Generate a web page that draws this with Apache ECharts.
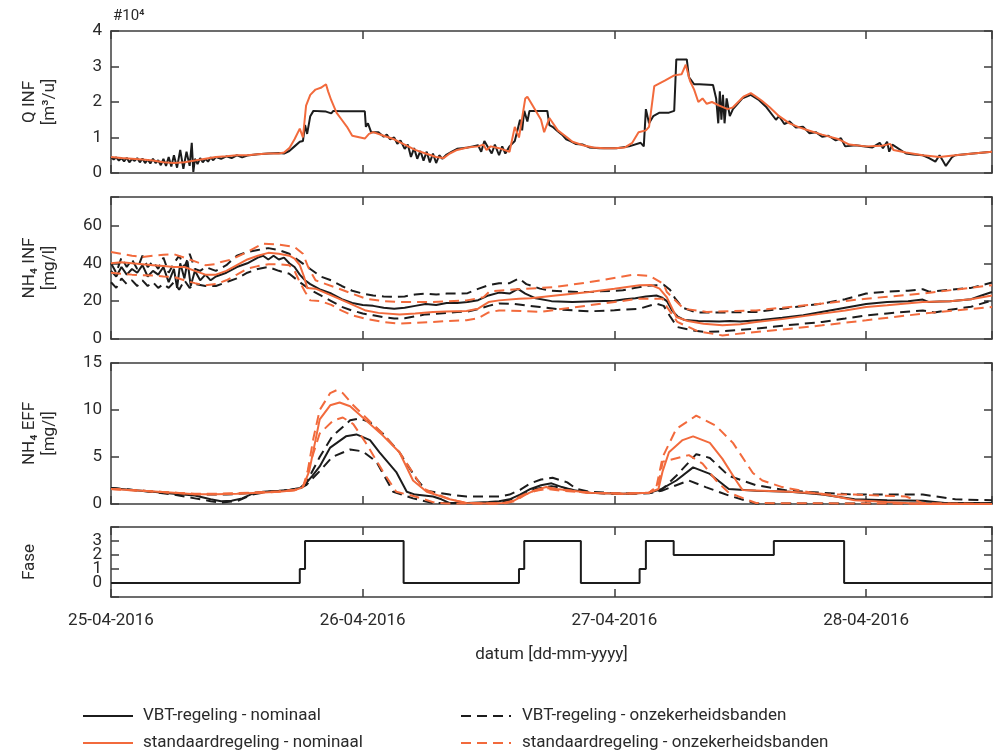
<!DOCTYPE html>
<html>
<head>
<meta charset="utf-8">
<script src="https://cdn.jsdelivr.net/npm/echarts@6/dist/echarts.min.js"></script>
<style>
    body { margin: 0; background: #fff; }
    #main { width: 993px; height: 756px; }
</style>
</head>
<body>
<div id="main"></div>
<script>
// tijd in uren vanaf 25-04-2016 00:00
var dateLabels = ['25-04-2016', '26-04-2016', '27-04-2016', '28-04-2016'];

// Q INF [x10^4 m3/u]
var qVbt = [[0,0.45],[0.25,0.38],[0.5,0.44],[0.75,0.35],[1,0.42],[1.25,0.33],[1.5,0.43],[1.75,0.3],[2,0.4],[2.25,0.34],[2.5,0.42],[2.75,0.3],[3,0.41],[3.25,0.28],[3.5,0.38],[3.75,0.27],[4,0.4],[4.25,0.28],[4.5,0.36],[4.75,0.22],[5,0.4],[5.25,0.2],[5.5,0.45],[5.75,0.18],[6,0.5],[6.3,0.15],[6.6,0.65],[6.9,0.12],[7.2,0.6],[7.5,0.2],[7.7,0.85],[7.85,0.03],[8,0.4],[8.25,0.25],[8.5,0.42],[8.75,0.3],[9,0.4],[9.25,0.32],[9.5,0.44],[9.75,0.36],[10,0.45],[10.5,0.4],[11,0.47],[11.5,0.42],[12,0.5],[12.5,0.44],[13,0.49],[14,0.53],[15,0.55],[16,0.56],[16.5,0.55],[17,0.62],[17.5,0.75],[18,0.88],[18.3,0.9],[18.5,1.35],[18.7,1.1],[19,1.6],[19.3,1.75],[20,1.74],[20.5,1.73],[21,1.68],[21.2,1.75],[22,1.74],[23,1.74],[24.2,1.74],[24.3,1.3],[24.5,1.4],[24.8,1.15],[25.5,1.15],[26,1.02],[26.3,1.08],[26.6,0.95],[27,1.0],[27.3,0.82],[27.6,0.92],[28,0.68],[28.3,0.8],[28.6,0.45],[28.9,0.7],[29.2,0.4],[29.5,0.62],[29.8,0.35],[30.1,0.6],[30.4,0.3],[30.7,0.55],[31,0.28],[31.3,0.5],[31.6,0.4],[32,0.52],[32.5,0.6],[33,0.68],[33.5,0.7],[34,0.72],[34.5,0.75],[35,0.78],[35.3,0.6],[35.6,0.9],[36,0.7],[36.3,0.55],[36.6,0.8],[37,0.5],[37.3,0.75],[37.6,0.55],[38,0.75],[38.5,0.9],[39,1.5],[39.2,1.2],[39.4,1.75],[39.7,1.45],[39.9,1.75],[41.6,1.75],[41.8,1.35],[42.1,1.3],[42.5,1.2],[43,1.08],[43.4,0.95],[43.8,0.9],[44.3,0.82],[45,0.8],[45.6,0.72],[46.6,0.7],[48.2,0.7],[49.4,0.75],[50.5,0.85],[50.6,0.8],[50.8,0.75],[51,1.8],[51.3,1.4],[51.7,1.6],[52.3,1.7],[53.2,1.7],[53.7,1.75],[53.9,3.2],[54.9,3.2],[55.1,2.7],[55.6,2.5],[56.1,2.5],[57.4,2.48],[57.7,2.1],[57.9,1.4],[58.05,2.3],[58.2,1.5],[58.35,2.2],[58.5,1.4],[58.7,2.1],[59,1.6],[59.3,1.8],[59.6,1.9],[60.2,2.1],[61,2.2],[61.8,2.05],[62.5,1.85],[63.4,1.5],[63.7,1.6],[64.2,1.38],[64.7,1.45],[65.3,1.28],[66,1.3],[66.6,1.12],[67.2,1.15],[67.8,1.02],[68.4,1.05],[69.1,0.92],[69.6,0.98],[70,0.75],[71,0.78],[72.6,0.72],[73.3,0.85],[73.6,0.7],[74,0.88],[74.2,0.6],[74.5,0.8],[75.8,0.55],[76.5,0.52],[77.4,0.5],[78,0.42],[78.6,0.32],[79,0.5],[79.3,0.35],[79.6,0.2],[80.2,0.45],[80.5,0.5],[82.2,0.55],[84,0.6]];
var qStd = [[0,0.45],[1,0.42],[2,0.4],[3,0.38],[4,0.35],[5,0.3],[6,0.28],[7,0.3],[8,0.35],[9,0.4],[10,0.45],[11,0.47],[12,0.5],[13,0.5],[14,0.53],[15,0.55],[16,0.55],[16.5,0.58],[17,0.7],[17.5,0.95],[18,1.25],[18.3,1.0],[18.6,1.9],[19,2.2],[19.5,2.35],[20,2.4],[20.5,2.5],[20.7,2.3],[21,2.05],[21.5,1.7],[22,1.5],[22.5,1.3],[23,1.05],[24.2,0.97],[24.6,1.1],[25,1.15],[26,1.05],[27,0.95],[28,0.8],[29,0.65],[30,0.55],[31,0.45],[31.7,0.42],[32.3,0.55],[33,0.65],[34,0.72],[35,0.75],[35.5,0.8],[35.8,0.65],[36.2,0.75],[37,0.7],[38,0.6],[38.5,1.3],[38.9,1.0],[39.5,2.1],[39.7,2.15],[40.2,1.9],[41,1.5],[41.3,1.15],[41.8,1.55],[42.6,1.2],[43.5,1.0],[44,0.88],[45,0.78],[46,0.72],[47,0.7],[48,0.7],[49,0.72],[49.7,0.85],[50.3,1.15],[51,1.2],[51.3,1.3],[51.8,2.45],[52.8,2.6],[53.7,2.75],[54.4,2.78],[54.8,3.05],[55.2,2.6],[55.6,2.35],[56,2.0],[56.4,2.1],[56.8,1.95],[57.3,2.0],[58,1.9],[58.8,1.8],[59.3,1.85],[59.8,2.0],[60.3,2.15],[61,2.25],[61.5,2.15],[62,2.05],[62.8,1.85],[63.7,1.6],[64.7,1.4],[65.5,1.3],[66.3,1.22],[67.8,1.08],[69.4,0.95],[70.4,0.8],[72,0.75],[73.5,0.77],[74.3,0.82],[74.6,0.65],[75.8,0.58],[77.4,0.5],[79,0.45],[80.5,0.5],[82.2,0.55],[84,0.6]];

// NH4 INF [mg/l]
var nhInfVbt = [[0,36],[0.5,33],[1,38],[1.5,34],[2,37],[2.5,35],[3,39],[3.5,33],[4,36],[4.5,34],[5,38],[5.5,30],[6,37],[6.3,27],[6.6,40],[7,32],[7.3,41],[7.6,28],[8,36],[8.5,31],[9,34],[9.5,31],[10,33],[11,35],[12,38],[13,40],[14,43],[14.5,44],[15,42],[15.5,44],[16,42],[16.5,43],[17,40],[17.5,38],[18,34],[18.5,31],[19,29],[20,26],[21,24],[22,21],[23,19],[24,18],[25,17.5],[26,16.5],[27,16],[28,16.5],[29,17.5],[30,18.5],[31,18],[32,19],[33,19],[34,19.5],[35,20.5],[36,23],[37,24.5],[38,24],[38.8,26.5],[39.5,24],[40.5,21.5],[42,20],[44,19.5],[46,20],[48,20.2],[49,21],[50,21.5],[51,22.5],[52,23],[52.5,22],[53,20],[53.5,15],[54,12],[54.7,10],[56,9.5],[58,9.3],[59,9.5],[60,9.2],[62,10],[64,11.2],[66,12.5],[68,14.5],[70,16.5],[72,18.5],[74,19.5],[76,20],[77.4,20.8],[78,19.5],[79,19.8],[80,20],[81,20.5],[82,21],[83,23],[84,24.8]];
var nhInfVbtHi = [[0,40],[0.5,35],[1,43],[1.5,38],[2,42],[2.5,37],[3,44],[3.5,38],[4,41],[4.5,37],[5,43],[5.5,35],[6,40],[6.5,44],[7,38],[7.5,45],[8,37],[8.5,36],[9,38],[10,36],[11,39],[12,44],[13,46],[14,47],[15,48],[16,47],[17,45],[18,41],[19,37],[20,33],[21,31],[22,28],[23,25.5],[24,24],[25,23],[26,22.5],[27,22.2],[28,22.5],[29,23.5],[30,24],[31,23.5],[32,24],[33,24],[34,24.2],[35,26.5],[36,28.4],[37,29.5],[38,29.5],[38.9,32],[39.6,29],[40.9,26.6],[42,25.5],[44.5,24.8],[46,25],[48.8,25.7],[50,27],[51,28],[52,28.4],[52.7,28.6],[53.3,26],[53.8,21.3],[54.5,16.5],[55.8,14],[58,14],[61.5,14.3],[64,16],[67.8,18.7],[70,21],[72,24],[74,25],[76,25.5],[77.4,26.3],[78,25],[79,25.5],[80,26],[82,27],[84,29.8]];
var nhInfVbtLo = [[0,30],[0.5,27],[1,32],[1.5,29],[2,31],[2.5,28],[3,31],[3.5,28],[4,30],[4.5,27],[5,29],[5.5,27],[6,30],[6.5,26],[7,31],[7.5,27],[8,29],[9,28],[10,28],[11,30],[12,32],[13,35],[14,37],[15,38],[16,36],[17,34.5],[18,30],[19,26],[20,23],[21,20],[22,17],[23,15],[24,13.5],[25,12.5],[26,11.5],[27,10.8],[28,11],[29,12],[30,13],[31,13.3],[32,13.8],[33,14.3],[34,14.5],[35,15.8],[36,17.5],[37,18.8],[38.5,18.5],[40.9,16.9],[43,15.5],[45.6,14.6],[48,15.2],[50.4,16],[52,18.7],[52.7,17.5],[53.3,12],[54,6.3],[55.5,4.5],[56.7,3.7],[58,4],[61.5,5.5],[64,7],[67.8,9],[70,10.8],[72,12.5],[74,13.5],[77.4,15.1],[78.5,14],[80,15.5],[82,17],[84,20.4]];
var nhInfStd = [[0,40],[1,40.5],[2,40],[3,39.5],[4,39],[5,38.5],[6,38],[7,38],[8,36],[9,34],[10,34],[11,36],[12,39],[13,42],[14,44],[15,45.5],[16,45],[17,44],[17.5,42.5],[18,39],[18.4,33],[18.7,27],[19.5,26.6],[21,23],[22.8,18.7],[24.3,15],[25.5,13.8],[27.5,12.9],[29,13.5],[30.7,14.3],[32,14.5],[33.9,14.8],[35,16],[36,19.5],[37,20.4],[38.9,21.3],[40,21.5],[42.4,23],[45.6,24.8],[48,26.5],[50.4,28.4],[51.5,28.5],[52.3,26.6],[53,22],[53.9,11.6],[55,9.5],[56.5,8],[58.3,7.2],[60,7.8],[61.5,9],[64,10.5],[67.8,13.4],[70,15],[72,16.9],[74,17.8],[77.4,19.5],[80,20],[82,21],[84,23]];
var nhInfStdHi = [[0,46],[1,45],[2,44],[3,43.3],[4,44],[5,44.5],[6,44.8],[7,43],[8,41],[9,39],[10,39.5],[10.5,40.7],[11.5,42],[13,46],[14.5,50.4],[16,49.9],[17.5,48.6],[18.3,45],[18.8,38],[19.5,31],[20.5,29],[22,26],[24.3,21.3],[26,20],[27.5,19.5],[30.7,19.5],[33.9,20.4],[35.5,22],[36.1,25.2],[38,26],[42.4,27.5],[45.6,30],[49.8,34],[51.4,33.3],[52.7,29],[53,24.8],[54.6,16],[56.8,14.3],[61.5,15.1],[67.8,18.7],[72,21.3],[77.4,24],[84,28.4]];
var nhInfStdLo = [[0,35],[1,34.5],[2,34],[3,33.7],[4,33.5],[5,33],[6,32.8],[7,31],[8,29.5],[9,28.4],[10,29],[11,31],[12,34],[13,37.2],[14,38.5],[15,39.5],[16,39.5],[17,39],[17.5,36],[18,30],[18.5,25],[19,20.4],[20,20],[21,18],[22,15],[23,12.5],[24.3,10.7],[26,9],[27.5,8.1],[29,8.5],[30.7,9],[32,9.5],[33.9,9.9],[35,11],[36,14],[37,15.1],[38,15],[40.9,14.3],[45.6,17.8],[50.4,21.3],[52.6,21.3],[53,17],[54,9],[56,4],[58.3,1.9],[61.5,3.7],[64,5],[67.8,7.2],[72,9.9],[77.4,13.4],[84,16.9]];

// NH4 EFF [mg/l]
var effVbt = [[0,1.7],[2,1.5],[4,1.3],[6,1.1],[8,0.9],[9.5,0.5],[10.5,0.3],[11.5,0.35],[12.5,0.6],[13.5,1.1],[14.5,1.3],[16,1.4],[17,1.5],[18,1.7],[18.5,2.1],[19.2,3.0],[19.9,4.0],[20.9,6.0],[22.4,7.2],[23.4,7.4],[24.7,6.8],[25.6,5.5],[27.2,3.4],[28.2,1.3],[29,1.0],[30.7,0.8],[31.5,0.5],[32.3,0.1],[34,0.1],[36,0.2],[37,0.3],[38,0.5],[39,1.0],[40,1.6],[41,2.0],[42,2.2],[43,1.8],[44,1.5],[45.6,1.2],[48.8,1.1],[51.3,1.2],[52.5,1.6],[53.9,2.5],[55.5,3.9],[57.1,3.2],[58.9,1.6],[61.5,1.4],[64.7,1.3],[67.8,1.0],[70.9,0.5],[74,0.4],[77.4,0.35],[79.5,0.1],[84,0.1]];
var effVbtHi = [[0,1.7],[3,1.4],[6,1.15],[9,1.0],[11,1.0],[13,1.15],[15,1.3],[17,1.45],[18,1.7],[18.6,2.2],[19.9,5.0],[21.1,7.2],[22.8,8.9],[23.7,9.1],[24.7,8.7],[25.9,7.5],[27.5,5.5],[29.1,2.7],[30.1,1.4],[32.3,1.0],[33.9,0.8],[37,0.8],[38,1.0],[39,1.5],[40,2.2],[41,2.6],[42.1,2.8],[43.5,2.3],[44.4,1.6],[45.6,1.3],[48.8,1.1],[51.3,1.2],[52.5,1.5],[53.9,3.0],[55.8,5.3],[57.1,4.9],[58.9,3.0],[61.5,2.0],[64.7,1.4],[70.9,1.0],[77.4,1.0],[80.5,0.5],[84,0.4]];
var effVbtLo = [[0,1.7],[3,1.4],[6,1.0],[8,0.6],[9.5,0.3],[10.5,0.15],[12,0.3],[13.5,1.0],[15,1.3],[17,1.5],[18,1.65],[18.6,2.0],[19.9,3.5],[21.1,5.0],[22.8,5.8],[24,5.6],[25.3,4.5],[26.9,1.3],[28.8,0.6],[30.7,0.1],[36,0.1],[37,0.2],[38,0.4],[39.3,1.0],[40.5,1.6],[42,1.9],[43.5,1.6],[45.6,1.2],[48.8,1.05],[51.3,1.15],[52.5,1.4],[53.9,2.0],[55.1,2.5],[56.7,1.8],[58.9,0.9],[61.5,0.05],[84,0.05]];
var effStd = [[0,1.6],[3,1.4],[6,1.2],[8,1.05],[10,1.05],[12,1.1],[14,1.2],[16,1.3],[17.5,1.45],[18.3,1.8],[18.9,3.5],[19.9,9.0],[20.9,10.5],[21.8,10.8],[22.8,10.4],[24.3,8.9],[25.9,7.3],[27.5,5.5],[28.8,2.5],[30.1,1.3],[32.3,0.5],[33.9,0.1],[36,0.05],[37.5,0.1],[38.5,0.4],[39.5,1.0],[40.5,1.5],[41.5,1.8],[42.5,1.6],[44,1.4],[45.6,1.2],[48.8,1.1],[51.3,1.2],[52.2,1.6],[52.6,3.5],[53.2,5.5],[54.5,6.8],[55.5,7.2],[57.1,6.5],[58.3,4.8],[59.6,2.5],[60.2,1.5],[64.7,1.3],[67.8,1.1],[70.9,0.4],[74,0.2],[77.4,0],[84,0]];
var effStdHi = [[0,1.6],[3,1.4],[6,1.2],[8,1.1],[10,1.1],[12,1.15],[14,1.25],[16,1.35],[17.5,1.5],[18.3,1.9],[18.6,2.5],[19.3,7.0],[19.9,10.0],[20.9,11.8],[21.5,12.1],[22.1,11.8],[23.1,10.5],[24.3,9.2],[25.9,7.5],[27.5,5.5],[28.8,3.3],[29.7,1.7],[30.7,1.2],[32.3,0.5],[33.9,0.1],[37,0.05],[38,0.2],[39,0.8],[40,1.3],[41.5,1.7],[43,1.5],[45.6,1.2],[48.8,1.1],[51.3,1.2],[52,1.8],[52.6,5.0],[53.9,8.0],[55.8,9.4],[57.7,8.3],[59.3,6.5],[61.2,3.3],[62.1,2.5],[64,1.8],[67.8,1.0],[70.9,1.0],[75.8,0.8],[77.4,0.1],[84,0]];
var effStdLo = [[0,1.6],[3,1.4],[6,1.2],[8,1.05],[10,1.05],[12,1.1],[14,1.2],[16,1.3],[17.5,1.45],[18.3,1.8],[18.9,4.0],[19.9,7.5],[21.2,8.9],[22.1,9.2],[23.1,8.5],[24.3,6.5],[25.9,3.5],[27.2,1.3],[29,0.8],[30.7,0.2],[32,0.05],[37.5,0.05],[38.5,0.3],[39.5,1.0],[40.5,1.4],[41.5,1.6],[43,1.4],[45.6,1.2],[48.8,1.1],[51.3,1.2],[52.2,2.0],[52.6,4.5],[55.1,5.2],[56.4,4.3],[57.7,2.5],[58.9,1.2],[61.5,0.1],[84,0]];

// Fase (stapfunctie)
var fase = [[0,0],[18,1],[18.5,3],[27.9,0],[38.9,1],[39.4,3],[44.8,0],[50.4,1],[51,3],[53.65,2],[63.2,3],[69.9,0],[84,0]];

var NAME_VBT = 'VBT-regeling - nominaal';
var NAME_VBT_B = 'VBT-regeling - onzekerheidsbanden';
var NAME_STD = 'standaardregeling - nominaal';
var NAME_STD_B = 'standaardregeling - onzekerheidsbanden';

var BLACK = '#1c1c1c';
var ORANGE = '#f26a3c';
var AXIS = '#3c3c3c';
var TEXT = '#2a2a2a';
var FONT = 'Roboto';

// grids: links 111, rechts 992
var grids = [
    {left: 111, right: 1, top: 31, height: 142},
    {left: 111, right: 1, top: 197, height: 142},
    {left: 111, right: 1, top: 363, height: 141},
    {left: 111, right: 1, top: 527, height: 70}
];

function line(name, data, idx, color, dashed) {
    return {
        name: name,
        type: 'line',
        xAxisIndex: idx,
        yAxisIndex: idx,
        data: data,
        symbol: 'none',
        silent: true,
        lineStyle: {
            color: color,
            width: 2,
            type: dashed ? [10, 6] : 'solid'
        },
        itemStyle: {color: color}
    };
}

function legendItem(name, left, top, gap) {
    return {
        orient: 'horizontal', left: left, top: top, padding: 0,
        itemWidth: 50, itemHeight: 14,
        itemStyle: {color: 'rgba(0,0,0,0)', borderColor: 'rgba(0,0,0,0)', borderWidth: 0},
        textStyle: {fontSize: 17, color: TEXT, fontFamily: FONT, lineHeight: 20, padding: [0, 0, 0, gap]},
        data: [name]
    };
}

var xAxes = [];
var yAxes = [];
var yCfg = [
    {min: 0, max: 4, interval: 1, step: 1, name: 'Q INF\n[m³/u]', gap: 51},
    {min: 0, max: 75, interval: 20, step: 20, name: 'NH₄ INF\n[mg/l]', gap: 51},
    {min: 0, max: 15, interval: 5, step: 5, name: 'NH₄ EFF\n[mg/l]', gap: 51},
    {min: -1, max: 4, interval: 1, step: 1, name: 'Fase', gap: 71}
];
for (var i = 0; i < 4; i++) {
    var last = (i === 3);
    xAxes.push({
        type: 'value', gridIndex: i, min: 0, max: 84, interval: 24,
        position: 'bottom',
        axisLine: {show: true, onZero: false, lineStyle: {color: AXIS, width: 1.5}},
        axisTick: {show: true, inside: true, length: 8, lineStyle: {color: AXIS, width: 1.5}},
        splitLine: {show: false},
        axisLabel: {
            show: last, margin: 15, color: TEXT, fontSize: 17, fontFamily: FONT,
            showMaxLabel: false,
            formatter: function (v) { return v % 24 === 0 ? dateLabels[v / 24] : ''; }
        },
        name: last ? 'datum [dd-mm-yyyy]' : '',
        nameLocation: 'middle', nameGap: 49,
        nameTextStyle: {color: TEXT, fontSize: 17, fontFamily: FONT}
    });
    yAxes.push({
        type: 'value', gridIndex: i, min: yCfg[i].min, max: yCfg[i].max, interval: yCfg[i].interval,
        position: 'left',
        axisLine: {show: true, onZero: false, lineStyle: {color: AXIS, width: 1.5}},
        axisTick: {show: true, inside: true, length: 8, lineStyle: {color: AXIS, width: 1.5}},
        splitLine: {show: false},
        axisLabel: {
            margin: 9, color: TEXT, fontSize: 17, fontFamily: FONT,
            showMaxLabel: true,
            formatter: (function (c) {
                return function (v) {
                    if (v < 0 || (c.name === 'Fase' && v > 3)) return '';
                    return v % c.step === 0 ? String(v) : '';
                };
            })(yCfg[i])
        },
        name: yCfg[i].name,
        nameLocation: 'middle', nameRotate: 90, nameGap: yCfg[i].gap,
        nameTextStyle: {color: TEXT, fontSize: 17, lineHeight: 20, fontFamily: FONT, align: 'center'}
    });
}
// bovenste en rechter assen voor de kader met tikjes
for (var j = 0; j < 4; j++) {
    xAxes.push({
        type: 'value', gridIndex: j, min: 0, max: 84, interval: 24, position: 'top',
        axisLine: {show: true, onZero: false, lineStyle: {color: AXIS, width: 1.5}},
        axisTick: {show: true, inside: true, length: 8, lineStyle: {color: AXIS, width: 1.5}},
        axisLabel: {show: false}, splitLine: {show: false}
    });
    yAxes.push({
        type: 'value', gridIndex: j, min: yCfg[j].min, max: yCfg[j].max, interval: yCfg[j].interval,
        position: 'right',
        axisLine: {show: true, onZero: false, lineStyle: {color: AXIS, width: 1.5}},
        axisTick: {show: true, inside: true, length: 8, lineStyle: {color: AXIS, width: 1.5}},
        axisLabel: {show: false}, splitLine: {show: false}
    });
}

var chart = echarts.init(document.getElementById('main'));
var option = {
    animation: false,
    backgroundColor: '#fff',
    textStyle: {fontFamily: FONT},
    grid: grids,
    xAxis: xAxes,
    yAxis: yAxes,
    graphic: [{
        type: 'text', left: 113, top: 9,
        style: {text: '#10⁴', fill: TEXT, font: '15px Roboto'}
    }],
    legend: [
        legendItem(NAME_VBT, 82, 706, 5),
        legendItem(NAME_STD, 82, 733, 5),
        legendItem(NAME_VBT_B, 460, 706, 6),
        legendItem(NAME_STD_B, 460, 733, 6)
    ],
    series: [
        line(NAME_VBT, qVbt, 0, BLACK, false),
        line(NAME_STD, qStd, 0, ORANGE, false),

        line(NAME_VBT_B, nhInfVbtHi, 1, BLACK, true),
        line(NAME_VBT_B, nhInfVbtLo, 1, BLACK, true),
        line(NAME_VBT, nhInfVbt, 1, BLACK, false),
        line(NAME_STD_B, nhInfStdHi, 1, ORANGE, true),
        line(NAME_STD_B, nhInfStdLo, 1, ORANGE, true),
        line(NAME_STD, nhInfStd, 1, ORANGE, false),

        line(NAME_VBT_B, effVbtHi, 2, BLACK, true),
        line(NAME_VBT_B, effVbtLo, 2, BLACK, true),
        line(NAME_VBT, effVbt, 2, BLACK, false),
        line(NAME_STD_B, effStdHi, 2, ORANGE, true),
        line(NAME_STD_B, effStdLo, 2, ORANGE, true),
        line(NAME_STD, effStd, 2, ORANGE, false),

        {
            name: 'Fase', type: 'line', step: 'end',
            xAxisIndex: 3, yAxisIndex: 3,
            data: fase, symbol: 'none', silent: true,
            lineStyle: {color: BLACK, width: 2}
        }
    ]
};
chart.setOption(option);
</script>
</body>
</html>
